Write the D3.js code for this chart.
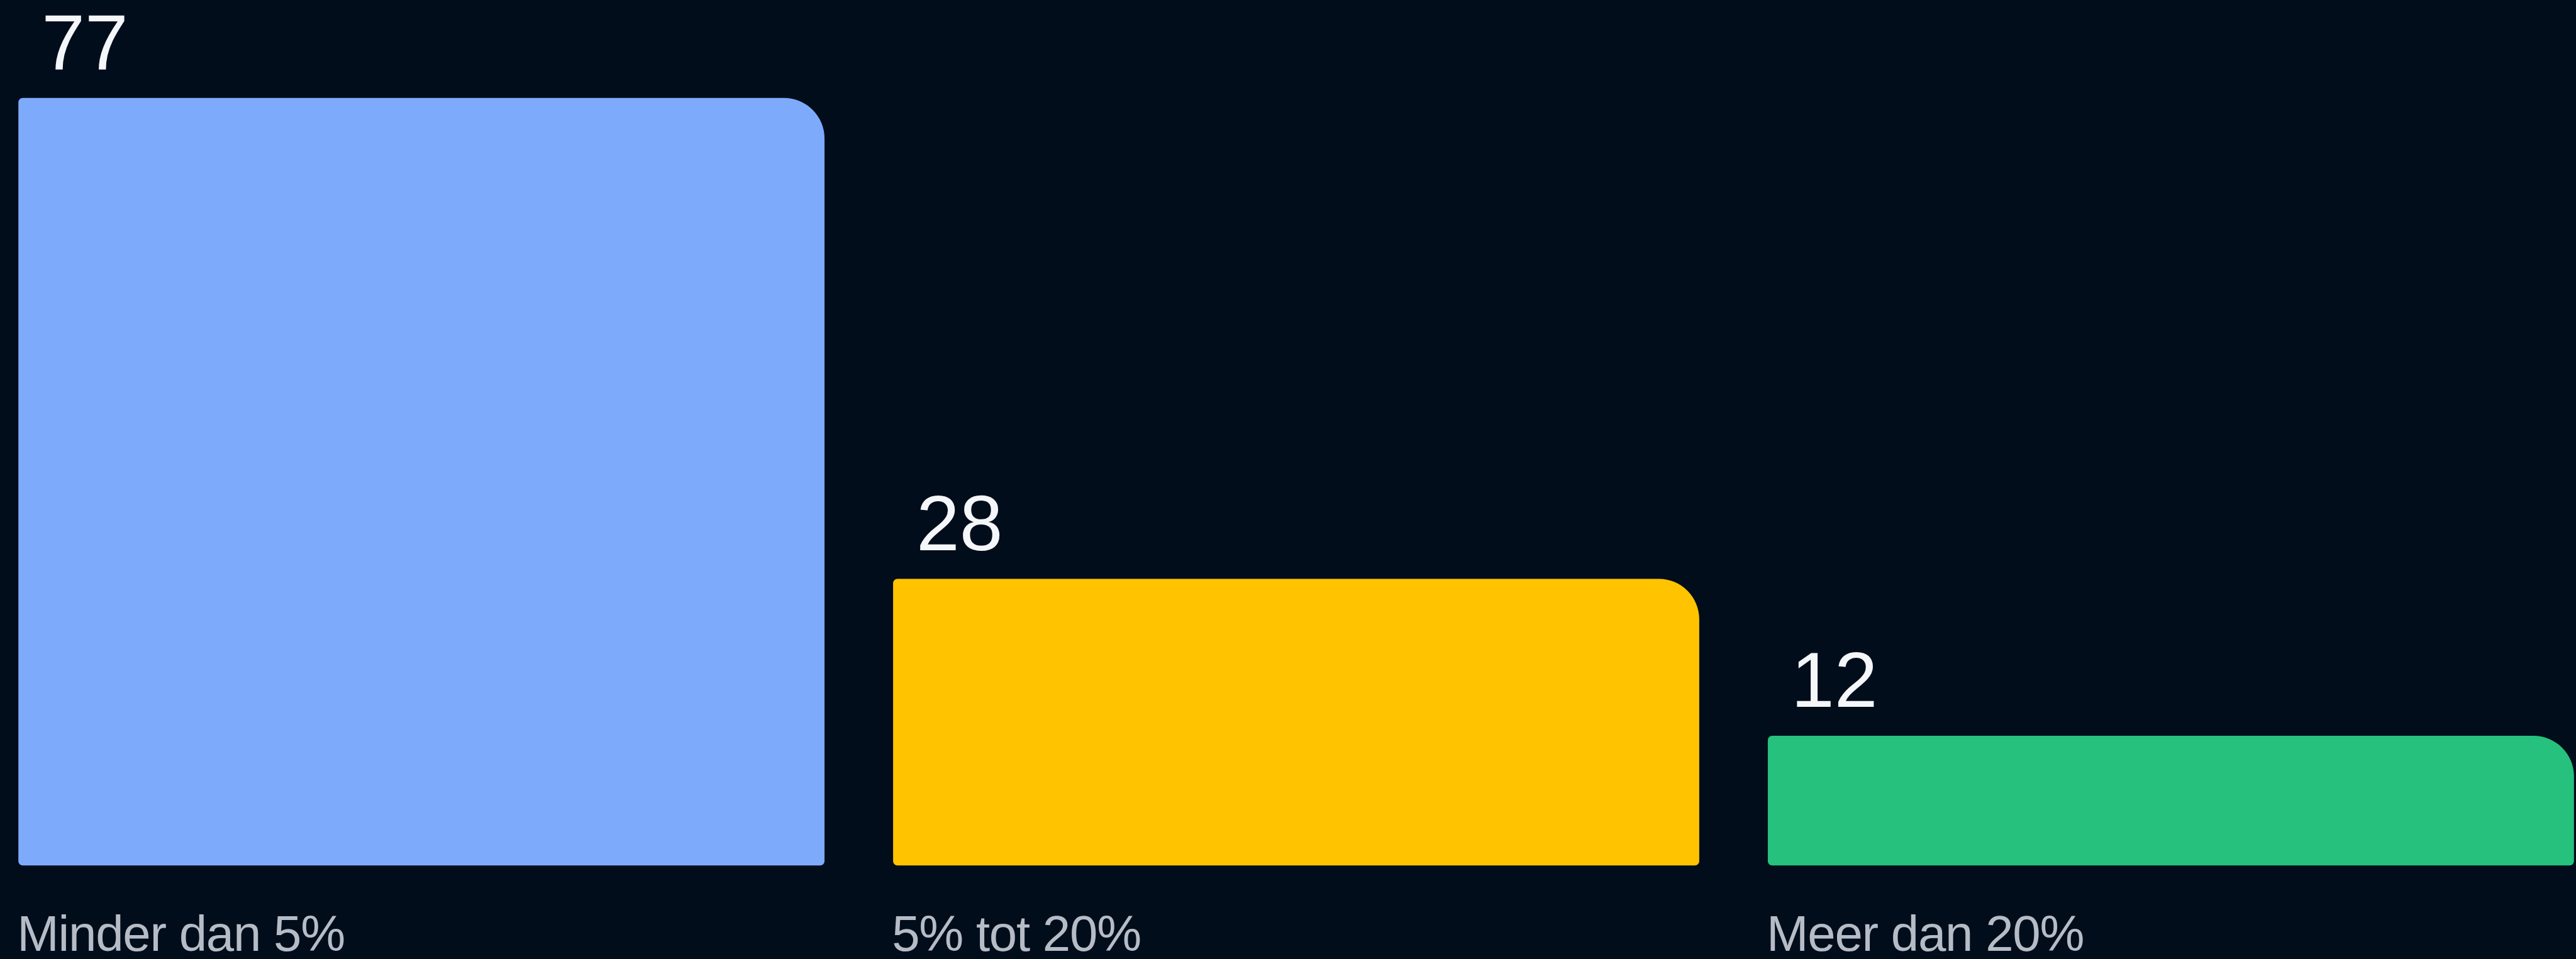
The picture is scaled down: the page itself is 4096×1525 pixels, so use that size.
<!DOCTYPE html>
<html>
<head>
<meta charset="utf-8">
<script src="https://cdn.jsdelivr.net/npm/d3@7"></script>
<style>
  html, body { margin: 0; padding: 0; background: #010d1b; }
  svg { display: block; }
</style>
</head>
<body>
<div id="chart"></div>
<script>
const categories = ["Minder dan 5%", "5% tot 20%", "Meer dan 20%"];
const values = [77, 28, 12];
const colors = ["#7eaafc", "#ffc300", "#26c17d"];

const k = 0.974;
const W = 4205, H = 1566;

const svg = d3.select("#chart")
    .append("svg")
    .attr("width", 4096)
    .attr("height", 1525);

svg.append("rect")
    .attr("width", 4096)
    .attr("height", 1525)
    .attr("fill", "#010d1b");

// everything drawn in reference units, then shrunk
const g = svg.append("g").attr("transform", `scale(${k})`);

const bottom = 1413;

const x = d3.scaleBand()
    .domain(categories)
    .range([30, 4202])
    .paddingInner(0.0784)
    .paddingOuter(0);

const y = d3.scaleLinear()
    .domain([0, 77])
    .range([1393.6, 160]);

// bar with big top-right corner, small others
function barPath(x0, y0, w, y1) {
    const p = d3.path();
    const rBig = 66, rS = 7;
    p.moveTo(x0 + rS, y0);
    p.lineTo(x0 + w - rBig, y0);
    p.arcTo(x0 + w, y0, x0 + w, y0 + rBig, rBig);
    p.lineTo(x0 + w, y1 - rS);
    p.arcTo(x0 + w, y1, x0 + w - rS, y1, rS);
    p.lineTo(x0 + rS, y1);
    p.arcTo(x0, y1, x0, y1 - rS, rS);
    p.lineTo(x0, y0 + rS);
    p.arcTo(x0, y0, x0 + rS, y0, rS);
    p.closePath();
    return p.toString();
}

g.selectAll(".bar")
    .data(values)
    .join("path")
    .attr("class", "bar")
    .attr("d", (d, i) => barPath(x(categories[i]), y(d), x.bandwidth(), bottom))
    .attr("fill", (d, i) => colors[i]);

g.selectAll(".value")
    .data(values)
    .join("text")
    .attr("class", "value")
    .attr("x", (d, i) => x(categories[i]) + 38)
    .attr("y", d => y(d) - 47)
    .attr("font-family", "Liberation Sans, Arial, sans-serif")
    .attr("font-size", 127)
    .attr("fill", "#f4f6f9")
    .text(d => d);

g.selectAll(".cat")
    .data(categories)
    .join("text")
    .attr("class", "cat")
    .attr("x", d => x(d) - 2)
    .attr("y", 1552)
    .attr("font-family", "Liberation Sans, Arial, sans-serif")
    .attr("font-size", 82)
    .attr("letter-spacing", -1.3)
    .attr("fill", "#b6bcc6")
    .text(d => d);
</script>
</body>
</html>
